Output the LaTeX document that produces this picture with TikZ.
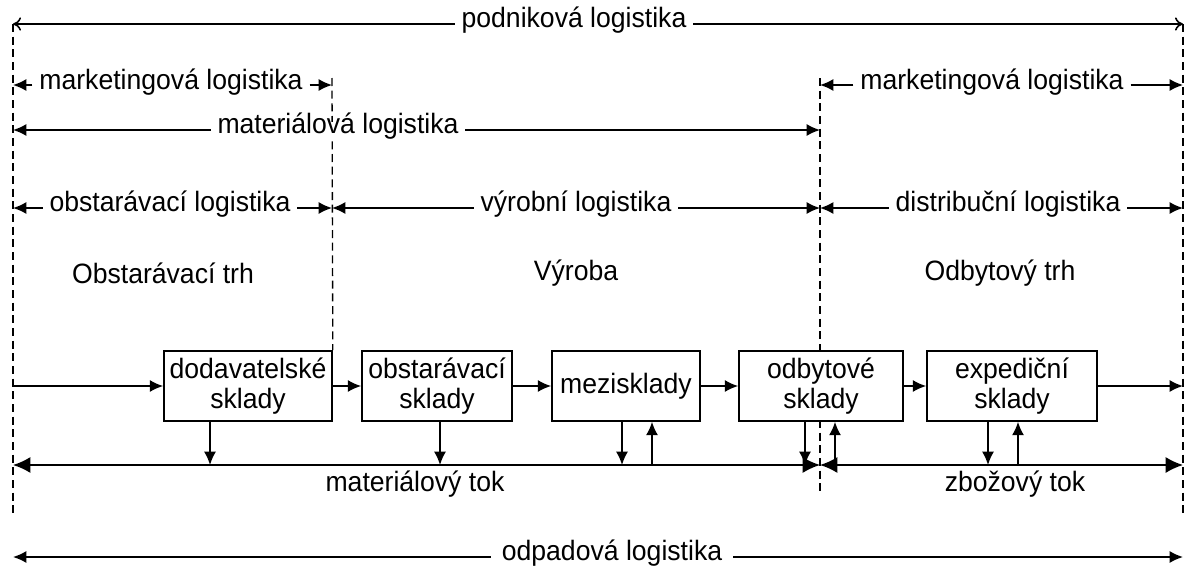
\documentclass[tikz,border=0pt]{standalone}
\usepackage{fontspec}
\setmainfont{Liberation Sans}[FakeStretch=0.95]
\usetikzlibrary{arrows.meta}
\begin{document}
\begin{tikzpicture}[x=0.75pt,y=-0.75pt,
  font=\fontsize{21}{22.5}\selectfont,
  dsh/.style={line width=1pt, dash pattern=on 6pt off 3.5pt},
  lbl/.style={fill=white, inner xsep=5pt, inner ysep=1pt, text height=0.75em, text depth=0.25em},
  plain/.style={inner sep=0pt},
  bx/.style={draw, line width=1.2pt, fill=white, align=center, minimum height=52.5pt, inner sep=1pt},
  tip/.style={line width=1.2pt, -{Latex[length=10pt,width=9pt]}},
  otip/.style={line width=1.2pt, -{To[length=6pt,width=10pt]}},
  dtip/.style={line width=1.2pt, {Latex[length=13pt,width=12pt]}-{Latex[length=13pt,width=12pt]}},
]
\useasboundingbox (0,0) rectangle (1193,571);

% frame coordinates
\coordinate (L0) at (13,24);
\coordinate (R0) at (1183,24);
\coordinate (Lb) at (13,515);
\coordinate (Rb) at (1183,515);
\coordinate (M1t) at (332,78);
\coordinate (M2t) at (820,78);
\coordinate (M2b) at (820,492);

% dashed verticals
\draw[dsh] (L0) -- (Lb);
\draw[dsh] (R0) -- (Rb);
\draw[dsh] (M2t) -- (M2b);

% boxes
\node[bx, minimum width=126pt] (dod) at (248,386) {dodavatelské\\sklady};
\node[bx, minimum width=112.5pt] (obst) at (437,386) {obstarávací\\sklady};
\node[bx, minimum width=111pt] (mez) at (626,386) {mezisklady};
\node[bx, minimum width=123pt] (odb) at (821,386) {odbytové\\sklady};
\node[bx, minimum width=127.5pt] (exp) at (1012,386) {expediční\\sklady};

\draw[dsh] (M1t) -- (dod.north east);

% row y=24
\node[lbl] (t1) at (574,24) {podniková logistika};
\draw[otip] (t1) -- (L0);
\draw[otip] (t1) -- (R0);

% row y=85
\coordinate (a1) at (13,85);
\coordinate (a2) at (332,85);
\coordinate (a3) at (820,85);
\coordinate (a4) at (1183,85);
\node[lbl] (t2) at (171,86) {marketingová logistika};
\draw[tip] (t2.west |- a1) -- (a1);
\draw[tip] (t2.east |- a2) -- (a2);
\node[lbl] (t3) at (992,86) {marketingová logistika};
\draw[tip] (t3.west |- a3) -- (a3);
\draw[tip] (t3.east |- a4) -- (a4);

% row y=130
\coordinate (b1) at (13,130);
\coordinate (b2) at (820,130);
\node[lbl] (t4) at (338,130) {materiálová logistika};
\draw[tip] (t4) -- (b1);
\draw[tip] (t4) -- (b2);

% row y=208
\coordinate (c1) at (13,208);
\coordinate (c2) at (332,208);
\coordinate (c3) at (820,208);
\coordinate (c4) at (1183,208);
\node[lbl] (t5) at (170,208) {obstarávací logistika};
\draw[tip] (t5) -- (c1);
\draw[tip] (t5) -- (c2);
\node[lbl] (t6) at (576,208) {výrobní logistika};
\draw[tip] (t6) -- (c2);
\draw[tip] (t6) -- (c3);
\node[lbl] (t7) at (1008,208) {distribuční logistika};
\draw[tip] (t7) -- (c3);
\draw[tip] (t7) -- (c4);

% area titles
\node[plain] (h1) at (163,273) {Obstarávací trh};
\node[plain] (h2) at (576,273) {Výroba};
\node[plain] (h3) at (1000,273) {Odbytový trh};

% flow row
\coordinate (in) at (13,386);
\coordinate (out) at (1183,386);
\draw[tip] (in) -- (dod.west);
\draw[tip] (dod.east) -- (obst.west);
\draw[tip] (obst.east) -- (mez.west);
\draw[tip] (mez.east) -- (odb.west);
\draw[tip] (odb.east) -- (exp.west);
\draw[tip] (exp.east) -- (out);

% material / goods flow
\coordinate (f0) at (13,465);
\coordinate (fm) at (820,465);
\coordinate (fe) at (1183,465);
\draw[dtip] (f0) -- (fm);
\draw[dtip] (fm) -- (fe);
\node[plain] (mt) at (415,484) {materiálový tok};
\node[plain] (zt) at (1015,484) {zbožový tok};

\coordinate (v1) at (210,465);
\coordinate (v2) at (440,465);
\coordinate (v3) at (622,465);
\coordinate (v4) at (652,465);
\coordinate (v5) at (805,465);
\coordinate (v6) at (835,465);
\coordinate (v7) at (988,465);
\coordinate (v8) at (1018,465);
\draw[tip] (dod.south -| v1) -- (v1);
\draw[tip] (obst.south -| v2) -- (v2);
\draw[tip] (mez.south -| v3) -- (v3);
\draw[tip] (v4) -- (mez.south -| v4);
\draw[tip] (odb.south -| v5) -- (v5);
\draw[tip] (v6) -- (odb.south -| v6);
\draw[tip] (exp.south -| v7) -- (v7);
\draw[tip] (v8) -- (exp.south -| v8);

% waste logistics
\coordinate (w1) at (13,557);
\coordinate (w2) at (1183,557);
\node[lbl, inner xsep=8pt] (t8) at (612,557) {odpadová logistika};
\draw[tip] (t8) -- (w1);
\draw[tip] (t8) -- (w2);
\end{tikzpicture}
\end{document}
